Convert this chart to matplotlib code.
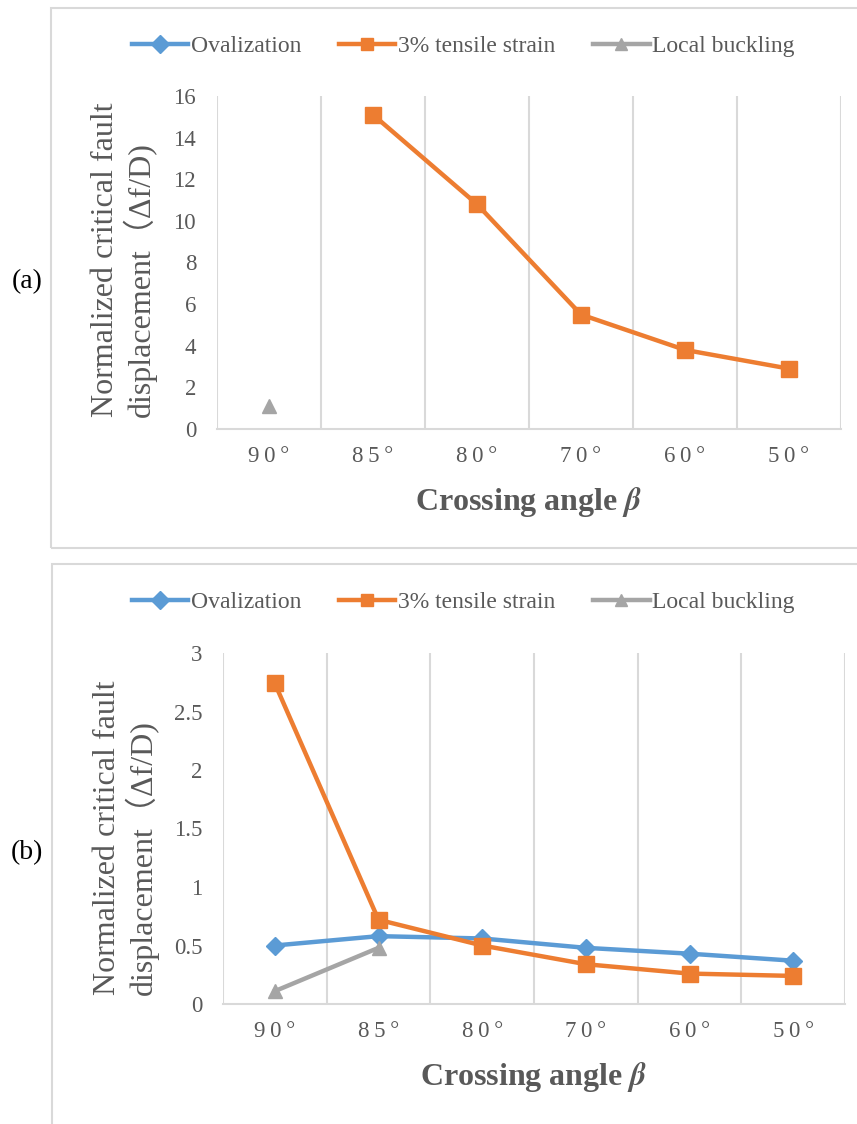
import numpy as np
import matplotlib.pyplot as plt
from matplotlib.patches import Rectangle
from matplotlib.lines import Line2D

plt.rcParams['font.family'] = ['Liberation Serif', 'Noto Sans CJK SC']
plt.rcParams['mathtext.fontset'] = 'stix'

# categories (crossing angle)
angles = ['90°', '85°', '80°', '70°', '60°', '50°']
nan = np.nan

# panel (a)
a_oval = [nan, nan, nan, nan, nan, nan]
a_tensile = [nan, 15.1, 10.8, 5.5, 3.8, 2.9]
a_buckling = [1.1, nan, nan, nan, nan, nan]
a_yticks = [0, 2, 4, 6, 8, 10, 12, 14, 16]

# panel (b)
b_oval = [0.50, 0.58, 0.56, 0.48, 0.43, 0.37]
b_tensile = [2.74, 0.72, 0.50, 0.34, 0.26, 0.24]
b_buckling = [0.11, 0.48, nan, nan, nan, nan]
b_yticks = [0, 0.5, 1, 1.5, 2, 2.5, 3]

names = ['Ovalization', '3% tensile strain', 'Local buckling']
colors = ['#5B9BD5', '#ED7D31', '#A5A5A5']
markers = ['D', 's', '^']
msizes = [9, 11.5, 10]
txt = '#595959'
grid = '#D9D9D9'

W, H = 857, 1124
fig = plt.figure(figsize=(W / 100, H / 100), dpi=100)

# chart frames (Excel chart area borders)
fig.patches.append(Rectangle((51 / W, 1 - 548 / H), 1.2, 540 / H, transform=fig.transFigure,
                             fill=False, ec=grid, lw=1.5))
fig.patches.append(Rectangle((52 / W, -0.2), 1.2, 0.2 + 1 - 564 / H, transform=fig.transFigure,
                             fill=False, ec=grid, lw=1.5))


def panel(box, series, yticks, ylim, ylab_xy, leg_y, tag, tag_y):
    x0, y0, x1, y1 = box
    ax = fig.add_axes([x0 / W, 1 - y1 / H, (x1 - x0) / W, (y1 - y0) / H])
    x = np.arange(len(angles))
    for vals, c, m, ms in zip(series, colors, markers, msizes):
        ax.plot(x, vals, color=c, lw=3.2, marker=m, ms=ms, clip_on=False)
    ax.set_xlim(-0.5, len(angles) - 0.5)
    ax.set_ylim(*ylim)
    for g in np.arange(-0.5, len(angles), 1.0):
        ax.axvline(g, color=grid, lw=1.5, zorder=0)
    for s in ['top', 'right', 'left']:
        ax.spines[s].set_visible(False)
    ax.spines['bottom'].set_color(grid)
    ax.spines['bottom'].set_linewidth(1.5)
    ax.set_xticks(x)
    # Excel-style expanded character spacing
    ax.set_xticklabels(['\u2009'.join(a) for a in angles])
    ax.set_yticks(yticks)
    ax.set_yticklabels([f'{t:g}' for t in yticks])
    ax.tick_params(axis='x', length=0, pad=12, labelsize=16.5, labelcolor=txt)
    ax.tick_params(axis='y', length=0, pad=15, labelsize=16.5, labelcolor=txt)
    ax.set_xlabel(r'Crossing angle $\mathbfit{\beta}$', fontsize=23, fontweight='bold',
                  color=txt, labelpad=13)
    fig.text(ylab_xy[0] / W, 1 - ylab_xy[1] / H,
             'Normalized critical fault\ndisplacement（Δf/D)',
             rotation=90, ha='center', va='center', multialignment='left',
             fontsize=23, color=txt, linespacing=1.1)
    handles = [Line2D([], [], color=c, lw=3.2, marker=m, ms=9) for c, m in zip(colors, markers)]
    fig.legend(handles, names, loc='center', bbox_to_anchor=(463 / W, 1 - leg_y / H), ncol=3,
               frameon=False, fontsize=17, handlelength=2.4, handletextpad=0.1,
               columnspacing=1.6, labelcolor=txt)
    fig.text(27 / W, 1 - tag_y / H, tag, ha='center', va='center', fontsize=20, color='black')
    return ax


panel((217, 96, 841, 429), [a_oval, a_tensile, a_buckling], a_yticks, (0, 16),
      (124, 260), 46, '(a)', 282)
panel((223, 653, 845, 1004), [b_oval, b_tensile, b_buckling], b_yticks, (0, 3),
      (126, 838), 602, '(b)', 853)

fig.savefig('out.png', dpi=100)
